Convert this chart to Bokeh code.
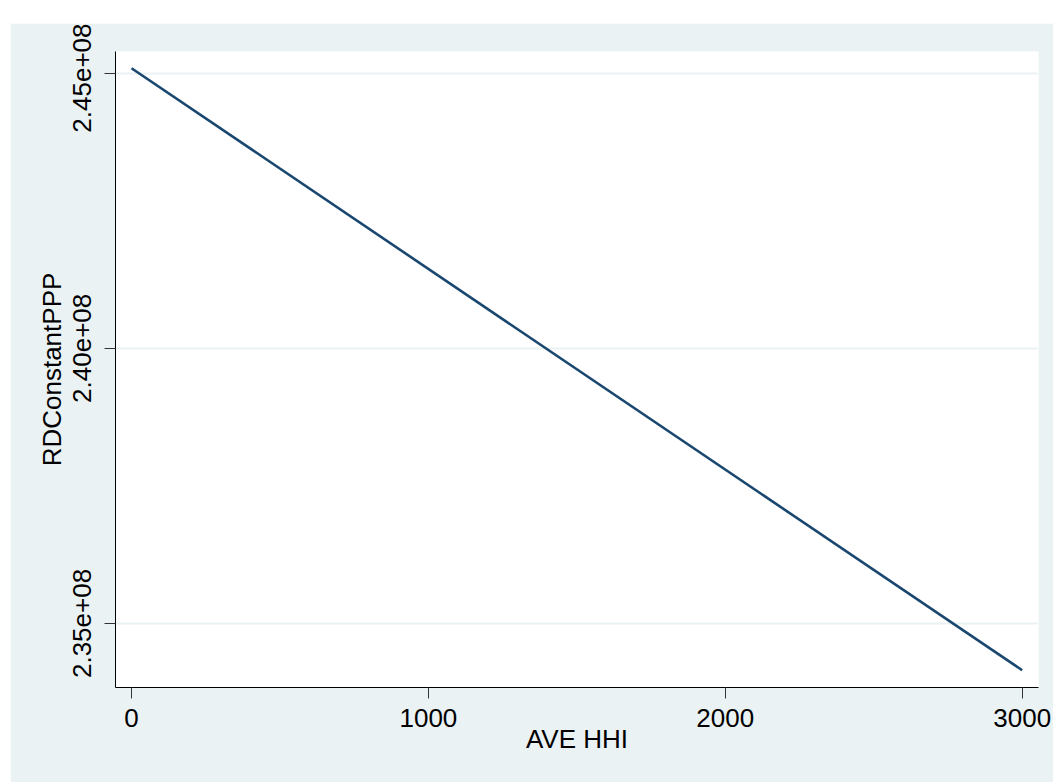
from bokeh.plotting import figure
from bokeh.models import Range1d, FixedTicker, CustomJSTickFormatter, Spacer
from bokeh.layouts import column, row
from bokeh.embed import file_html
from bokeh.resources import INLINE

# ---- data ----
ave_hhi = [0, 3000]
rd_fit = [2.4509e8, 2.3415e8]
x_ticks = [0, 1000, 2000, 3000]
y_ticks = [2.35e8, 2.40e8, 2.45e8]
x_title = "AVE HHI"
y_title = "RDConstantPPP"

BG = "#EAF2F3"
FONT = "Liberation Sans"

p = figure(width=1043, height=759, output_backend="svg", toolbar_location=None,
           x_range=Range1d(-54, 3055), y_range=Range1d(2.33836e8, 2.45395e8),
           min_border_left=105, min_border_right=15, min_border_top=28, min_border_bottom=95)
p.border_fill_color = BG
p.background_fill_color = "white"
p.outline_line_color = None

p.line(ave_hhi, rd_fit, line_color="#1a476f", line_width=2.6)

# x axis
xa = p.xaxis[0]
xa.ticker = FixedTicker(ticks=x_ticks)
xa.axis_label = x_title
xa.axis_label_text_font = FONT
xa.axis_label_text_font_size = "26px"
xa.axis_label_text_font_style = "normal"
xa.axis_label_text_color = "black"
xa.axis_label_standoff = -6
xa.major_label_text_font = FONT
xa.major_label_text_font_size = "26px"
xa.major_label_text_color = "black"
xa.major_label_standoff = 10
xa.major_tick_out = 11
xa.major_tick_in = 0
xa.minor_tick_line_color = None
xa.axis_line_color = "black"
xa.major_tick_line_color = "#333333"

# y axis
ya = p.yaxis[0]
ya.ticker = FixedTicker(ticks=y_ticks)
ya.formatter = CustomJSTickFormatter(code="""
var s = tick.toExponential(2);
return s.replace(/e([+-])(\\d)$/, 'e$10$2');
""")
ya.major_label_orientation = "vertical"
ya.axis_label = y_title
ya.axis_label_text_font = FONT
ya.axis_label_text_font_size = "26px"
ya.axis_label_text_font_style = "normal"
ya.axis_label_text_color = "black"
ya.axis_label_standoff = 4
ya.major_label_text_font = FONT
ya.major_label_text_font_size = "26px"
ya.major_label_text_color = "black"
ya.major_label_standoff = 13
ya.major_tick_out = 11
ya.major_tick_in = 0
ya.minor_tick_line_color = None
ya.axis_line_color = "black"
ya.major_tick_line_color = "#333333"

p.xgrid.grid_line_color = None
p.ygrid.grid_line_color = BG
p.ygrid.grid_line_width = 2

layout = column(Spacer(height=23), row(Spacer(width=10), p))
open("out.html", "w").write(file_html(layout, INLINE))
